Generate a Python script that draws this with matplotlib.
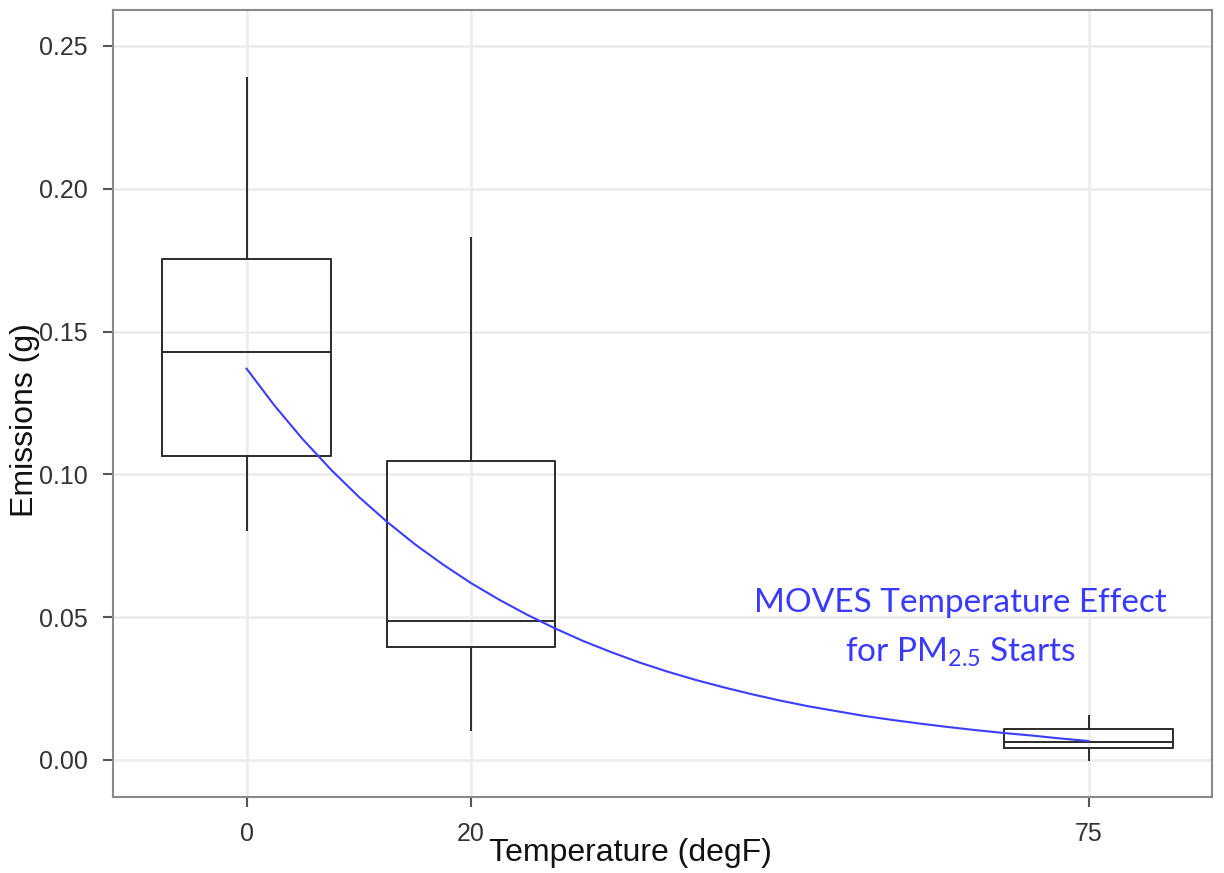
import matplotlib
matplotlib.use("Agg")
import matplotlib.pyplot as plt

# ---- data ----
temps = [0, 20, 75]
whisker_low = [0.0805, 0.0105, 0.0000]
q1 = [0.1064, 0.0396, 0.0040]
median = [0.1429, 0.0487, 0.0063]
q3 = [0.1755, 0.1047, 0.0109]
whisker_high = [0.2388, 0.1828, 0.0154]

curve_x = [0, 2.5, 5, 7.5, 10, 12.5, 15, 17.5, 20, 22.5, 25, 27.5, 30, 32.5,
           35, 37.5, 40, 42.5, 45, 47.5, 50, 52.5, 55, 57.5, 60, 62.5, 65,
           67.5, 70, 72.5, 75]
curve_y = [0.1370, 0.1240, 0.1123, 0.1017, 0.0921, 0.0834, 0.0755, 0.0684,
           0.0619, 0.0561, 0.0508, 0.0460, 0.0416, 0.0377, 0.0341, 0.0309,
           0.0280, 0.0254, 0.0230, 0.0208, 0.0188, 0.0171, 0.0154, 0.0140,
           0.0127, 0.0115, 0.0104, 0.0094, 0.0085, 0.0075, 0.0066]

y_ticks = [0.00, 0.05, 0.10, 0.15, 0.20, 0.25]
y_tick_labels = ["0.00", "0.05", "0.10", "0.15", "0.20", "0.25"]
x_tick_labels = ["0", "20", "75"]

fig = plt.figure(figsize=(12.24, 8.73), dpi=100)
ax = fig.add_axes([113/1224, 1 - 797/873, (1212-113)/1224, (797-10)/873])

stats = []
for i in range(len(temps)):
    stats.append(dict(med=median[i], q1=q1[i], q3=q3[i],
                      whislo=whisker_low[i], whishi=whisker_high[i], fliers=[]))

lc = "#2b2b2b"
ax.bxp(stats, positions=temps, widths=15, showcaps=False, showfliers=False,
       boxprops=dict(color=lc, linewidth=1.4),
       whiskerprops=dict(color=lc, linewidth=1.4),
       medianprops=dict(color=lc, linewidth=1.4),
       manage_ticks=False, zorder=3)

ax.plot(curve_x, curve_y, color="#3d3dff", linewidth=1.5, zorder=4)

ax.set_xlim(-11.9, 86)
ax.set_ylim(-0.013, 0.2626)
ax.set_xticks(temps)
ax.set_xticklabels(x_tick_labels)
ax.set_yticks(y_ticks)
ax.set_yticklabels(y_tick_labels)

ax.grid(True, color="#ececec", linewidth=1.8, zorder=0)
ax.set_axisbelow(True)
for s in ax.spines.values():
    s.set_color("#8a8a8a")
    s.set_linewidth(1.5)
ax.tick_params(axis="both", direction="out", length=7, width=1.5, color="#555555",
               labelsize=18, labelcolor="#333333", pad=11)
for lab in ax.get_xticklabels() + ax.get_yticklabels():
    lab.set_family("Liberation Sans")

fig.text(630/1224, 1 - 853/873, "Temperature (degF)", ha="center", va="center",
         fontsize=23, family="Liberation Sans", color="#111111")
fig.text(25/1224, 1 - 420/873, "Emissions (g)", ha="center", va="center",
         rotation=90, fontsize=23, family="Liberation Sans", color="#111111")

fig.text(960/1224, 1 - 603/873, "MOVES Temperature Effect", ha="center", va="center",
         fontsize=24, family="Lato", color="#3a3aff")
fig.text(960/1224, 1 - 652/873, r"for PM$_{\mathregular{2.5}}$ Starts", ha="center", va="center",
         fontsize=24, family="Lato", color="#3a3aff")

fig.savefig("out.png", dpi=100, facecolor="white")
